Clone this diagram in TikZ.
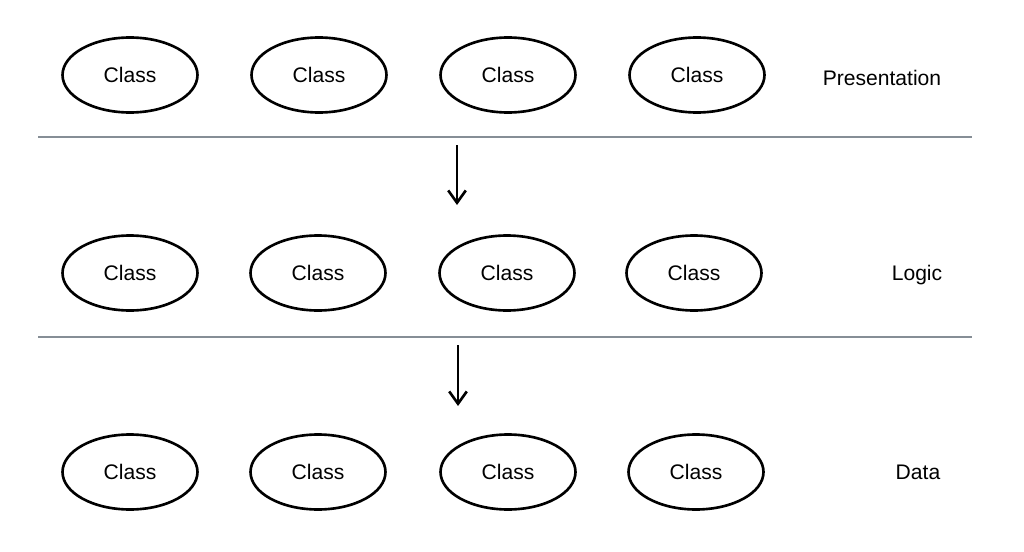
\documentclass[tikz,border=0pt]{standalone}
\usepackage{fontspec}
\setmainfont{Liberation Sans}
\usetikzlibrary{arrows.meta,shapes.geometric}
\definecolor{sepgray}{RGB}{134,142,150}

\begin{document}
\begin{tikzpicture}[x=0.02cm,y=-0.02cm]

\tikzset{
    cls/.style={ellipse,draw,line width=1.5pt,minimum width=2.7cm,minimum height=1.5cm,inner sep=0pt,font=\large},
    layer/.style={inner sep=1pt,font=\large},
    sep/.style={draw=sepgray,line width=1.3pt},
    down/.style={-{Straight Barb[length=7pt,width=10pt]},line width=1.5pt}}

\useasboundingbox (0,0) rectangle (1024,551);

% presentation layer
\node[cls] (P1) at (130,75) {Class};
\node[cls] (P2) at (319,75) {Class};
\node[cls] (P3) at (508,75) {Class};
\node[cls] (P4) at (697,75) {Class};
\node[layer] (P) at (882,78) {Presentation};

% logic layer
\node[cls] (L1) at (130,273) {Class};
\node[cls] (L2) at (318,273) {Class};
\node[cls] (L3) at (507,273) {Class};
\node[cls] (L4) at (694,273) {Class};
\node[layer] (L) at (917,275) {Logic};

% data layer
\node[cls] (D1) at (130,472) {Class};
\node[cls] (D2) at (318,472) {Class};
\node[cls] (D3) at (508,472) {Class};
\node[cls] (D4) at (696,472) {Class};
\node[layer] (D) at (918,472) {Data};

% separators
\coordinate (S1a) at (38,137);
\coordinate (S1b) at (972,137);
\coordinate (S2a) at (38,337);
\coordinate (S2b) at (972,337);
\draw[sep] (S1a) -- (S1b);
\draw[sep] (S2a) -- (S2b);

% arrows
\coordinate (A1a) at (457,145);
\coordinate (A1b) at (457,205);
\coordinate (A2a) at (458,345);
\coordinate (A2b) at (458,406);
\draw[down] (A1a) -- (A1b);
\draw[down] (A2a) -- (A2b);

\end{tikzpicture}
\end{document}
